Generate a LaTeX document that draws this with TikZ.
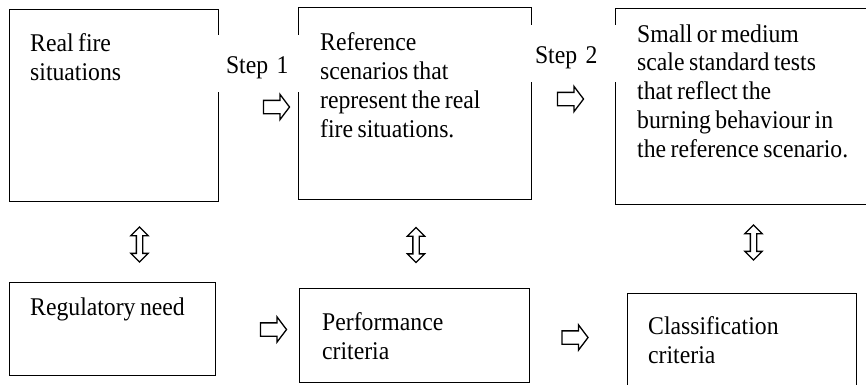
\documentclass[tikz,border=0pt]{standalone}
\usepackage{fontspec}
\setmainfont{Liberation Serif}[FakeStretch=0.93, WordSpace=0.75]
\usetikzlibrary{shapes.arrows}
\begin{document}
\begin{tikzpicture}[x=1pt,y=-1pt,
  box/.style={draw=black, line width=1.4pt, rectangle, inner sep=0pt, anchor=north west},
  txt/.style={anchor=base west, align=left, inner sep=0pt, font=\fontsize{25.5}{28.7}\selectfont},
  steplabel/.style={fill=white, inner ysep=0pt, minimum height=57pt, align=left,
    text height=25pt, text depth=5pt, font=\fontsize{25.5}{28.5}\selectfont},
  harrow/.style={single arrow, draw=black, fill=white, line width=1.3pt, inner xsep=0pt, inner ysep=6pt,
    single arrow head extend=6pt, single arrow tip angle=106, minimum height=26pt, minimum width=24pt},
  varrow/.style={double arrow, draw=black, fill=white, line width=1.3pt, inner xsep=0pt, inner ysep=2.5pt,
    double arrow head extend=5.5pt, double arrow tip angle=90, minimum height=35pt, minimum width=16pt, rotate=90}
]
\useasboundingbox (0,0) rectangle (866,384);
% boxes
\node[box, minimum width=209pt, minimum height=192pt] (b1) at (9,9) {};
\node[box, minimum width=233pt, minimum height=192pt] (b2) at (298,7) {};
\node[box, minimum width=280pt, minimum height=196pt] (b3) at (615,8) {};
\node[box, minimum width=206pt, minimum height=93pt] (b4) at (9,282) {};
\node[box, minimum width=230pt, minimum height=94pt] (b5) at (299,288) {};
\node[box, minimum width=229pt, minimum height=110pt] (b6) at (627,293) {};
% texts (anchored at the baseline of the last line)
\node[txt] (t1) at (30,80) {Real fire\\situations};
\node[txt] (t2) at (320,137) {Reference\\scenarios that\\represent the real\\fire situations.};
\node[txt] (t3) at (637,157) {Small or medium\\scale standard tests\\that reflect the\\burning behaviour in\\the reference scenario.};
\node[txt] (t4) at (30,315) {Regulatory need};
\node[txt] (t5) at (322,359) {Performance\\criteria};
\node[txt] (t6) at (648,363) {Classification\\criteria};
% step labels
\node[steplabel, text width=64pt, inner xsep=10pt] (s1) at (258,63.5) {Step 1};
\node[steplabel, text width=76pt, inner xsep=5pt] (s2) at (573,53) {Step 2};
% arrows
\node[harrow] (a1) at (274,107) {};
\node[harrow] (a2) at (568,99) {};
\node[harrow] (a3) at (271,329.5) {};
\node[harrow] (a4) at (572.5,337.5) {};
\node[varrow] (v1) at (139.5,244.5) {};
\node[varrow] (v2) at (416,245) {};
\node[varrow] (v3) at (753.5,242.5) {};
\end{tikzpicture}
\end{document}
